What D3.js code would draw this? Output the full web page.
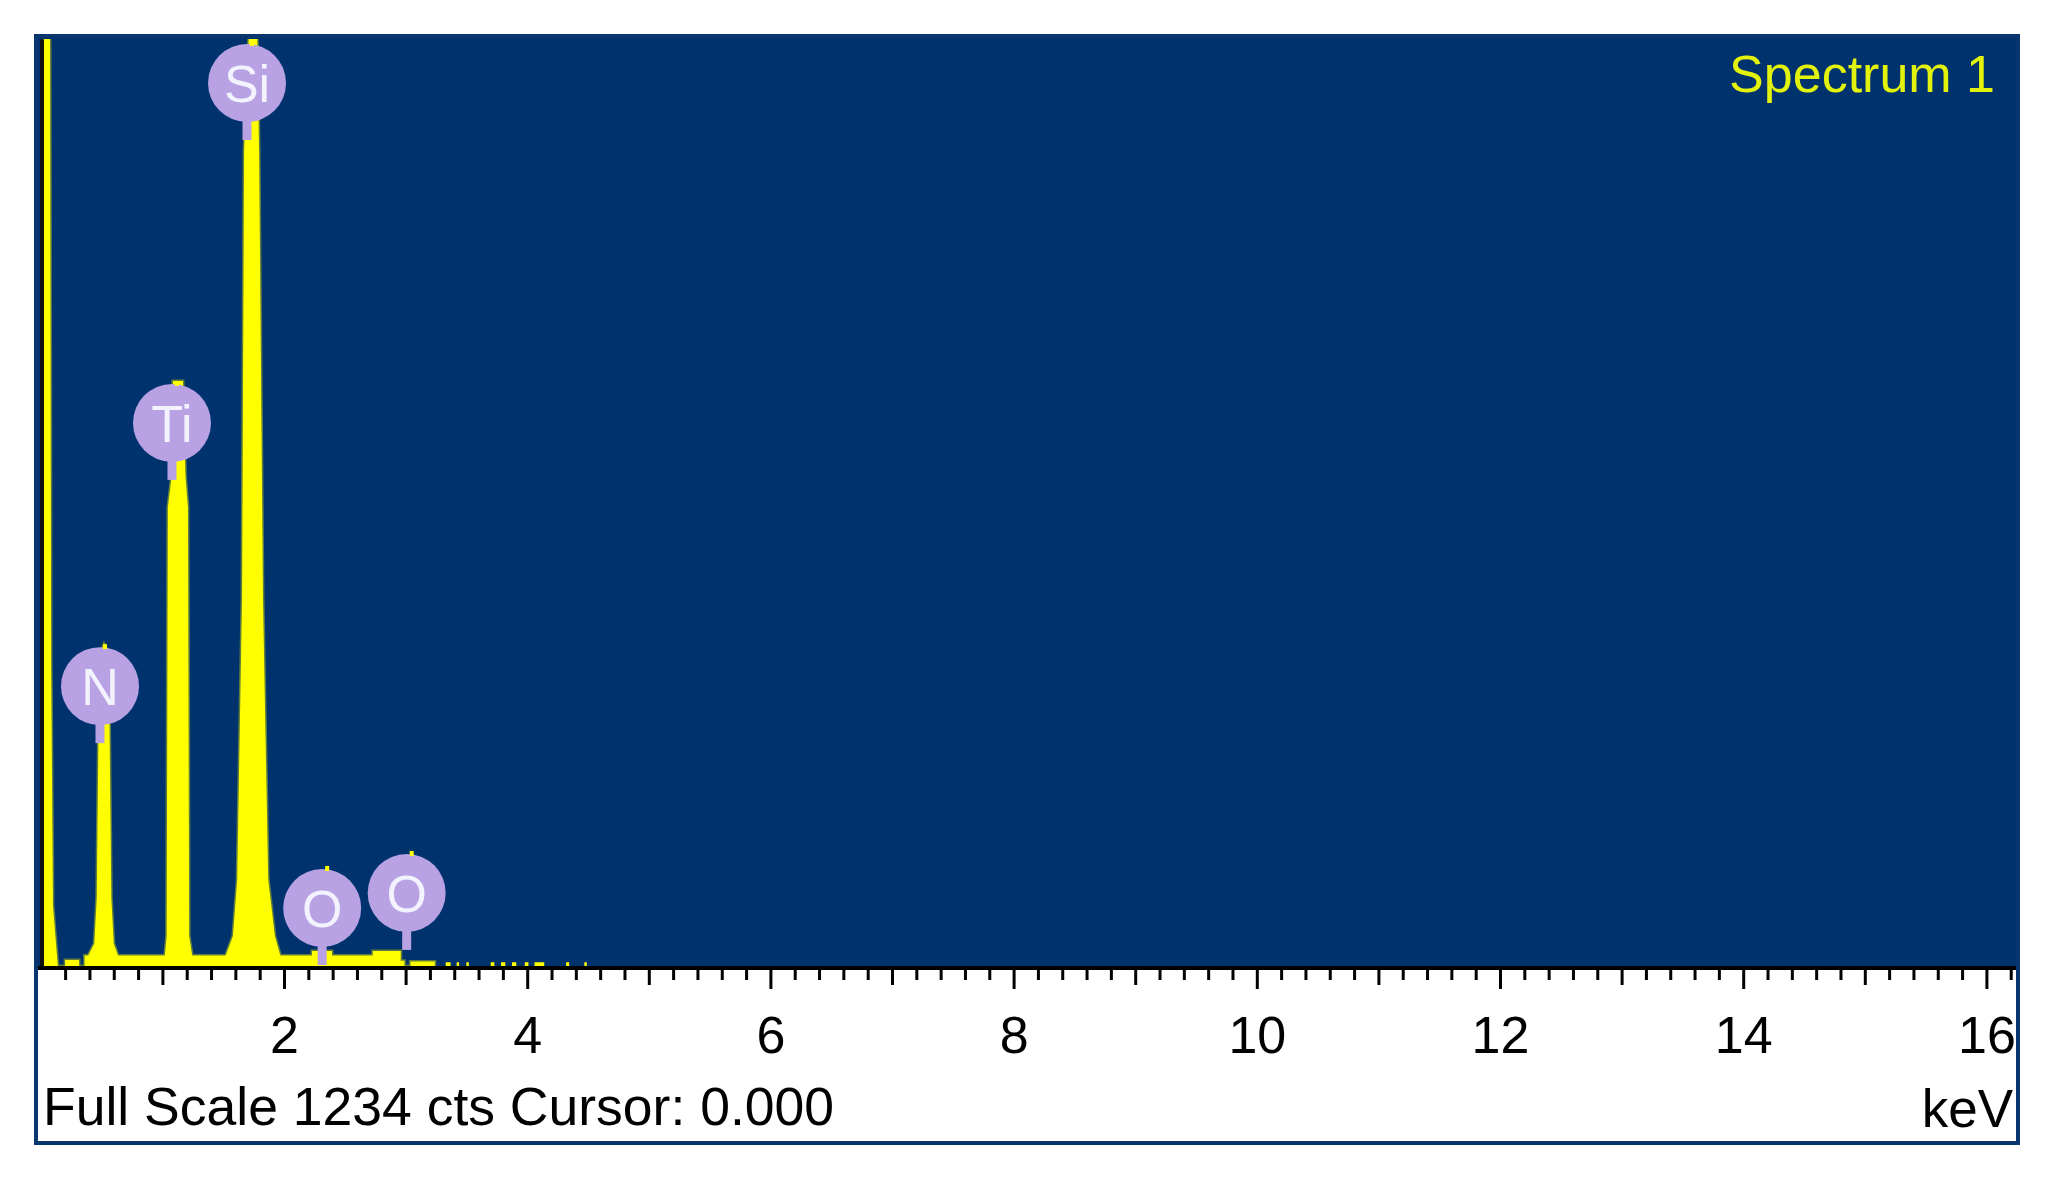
<!DOCTYPE html>
<html>
<head>
<meta charset="utf-8">
<script src="https://cdn.jsdelivr.net/npm/d3@7"></script>
<style>
  body { margin: 0; background: #fff; }
  svg { display: block; }
  text { font-family: "Liberation Sans", Arial, sans-serif; }
</style>
</head>
<body>
<svg id="chart"></svg>
<script>
// spectrum outline (keV, counts)
const spectrumKeV = [0.026, 0.026, 0.075, 0.085, 0.10, 0.14,
  0.20, 0.20, 0.315, 0.315, 0.36, 0.36,
  0.39, 0.44, 0.46, 0.475, 0.50, 0.52, 0.545, 0.565, 0.58, 0.60, 0.635,
  1.02, 1.035, 1.045, 1.075, 1.087, 1.169, 1.19, 1.21, 1.22, 1.245,
  1.52, 1.58, 1.615, 1.655, 1.672, 1.71, 1.78, 1.795, 1.827, 1.87, 1.925, 1.97,
  2.23, 2.23, 2.395, 2.395, 2.73, 2.73, 2.96, 2.96, 2.99, 2.99,
  3.04, 3.04, 3.24, 3.24];
const spectrumCts = [0, 1300, 1300, 400, 80, 0,
  0, 8, 8, 0, 0, 14,
  14, 30, 90, 320, 420, 428, 420, 320, 90, 30, 14,
  14, 40, 610, 650, 778, 778, 650, 610, 40, 14,
  14, 40, 115, 490, 1085, 1234, 1234, 1085, 490, 115, 40, 14,
  14, 20, 20, 14, 14, 20, 20, 7, 7, 0,
  0, 6, 6, 0];

// isolated noise channels past 3 keV
const noiseFrom = [3.33, 3.42, 3.50, 3.70, 3.785, 3.875, 3.98, 4.06, 4.32, 4.47];
const noiseTo = [3.37, 3.44, 3.52, 3.73, 3.82, 3.91, 4.01, 4.14, 4.345, 4.49];
const noiseCts = [5, 5, 5, 5, 5, 5, 5, 5, 5, 5];

// element markers
const labelNames = ["N", "Ti", "Si", "O", "O"];
const labelKeV = [0.528, 1.12, 1.737, 2.355, 3.05];
const labelCts = [428, 778, 1230, 133, 153];

const tickLabels = [2, 4, 6, 8, 10, 12, 14, 16];
const oddTicks = [1, 3, 5, 7, 9, 11, 13, 15];
const fullScale = 1234;
const title = "Spectrum 1";
const footer = "Full Scale 1234 cts Cursor: 0.000";
const unit = "keV";

const width = 2055, height = 1180;
const svg = d3.select("#chart").attr("width", width).attr("height", height);

const x = d3.scaleLinear().domain([0, 16]).range([40.8, 1986.4]);
const y = d3.scaleLinear().domain([0, fullScale]).range([966, 38]);

// white panel + blue plot area
svg.append("rect").attr("x", 36).attr("y", 36).attr("width", 1982).attr("height", 1107)
    .attr("fill", "#fff");
svg.append("rect").attr("x", 36).attr("y", 35).attr("width", 1982).attr("height", 931)
    .attr("fill", "#00336e");

svg.append("clipPath").attr("id", "plotclip")
  .append("rect").attr("x", 38).attr("y", 39).attr("width", 1978).attr("height", 927);

const plot = svg.append("g").attr("clip-path", "url(#plotclip)");

const pts = spectrumKeV.map((k, i) => [k, spectrumCts[i]]);
const area = d3.area()
    .x(d => x(d[0]))
    .y0(y(0))
    .y1(d => y(d[1]));

// soft olive edge under the yellow fill
plot.append("path").datum(pts).attr("d", area)
    .attr("fill", "none").attr("stroke", "#5f7d3c").attr("stroke-width", 3);
plot.append("path").datum(pts).attr("d", area)
    .attr("fill", "#ffff00");

plot.selectAll("rect.noise")
  .data(noiseFrom)
  .join("rect")
    .attr("class", "noise")
    .attr("x", (d, i) => x(d))
    .attr("width", (d, i) => x(noiseTo[i]) - x(d))
    .attr("y", (d, i) => y(noiseCts[i]))
    .attr("height", (d, i) => y(0) - y(noiseCts[i]))
    .attr("fill", "#ffff00");

// y axis line (black) at 0 keV
svg.append("rect").attr("x", 40).attr("y", 39.5).attr("width", 4).attr("height", 927)
    .attr("fill", "#111");

// element labels
const r = 39;
const labels = svg.append("g").selectAll("g")
  .data(labelNames)
  .join("g");
labels.append("rect")
    .attr("x", (d, i) => x(labelKeV[i]) - 5 - 4.5)
    .attr("y", (d, i) => y(labelCts[i]) + 42 + r - 3)
    .attr("width", 9)
    .attr("height", 21)
    .attr("fill", "#b8a2e4");
labels.append("circle")
    .attr("cx", (d, i) => x(labelKeV[i]) - 5)
    .attr("cy", (d, i) => y(labelCts[i]) + 42)
    .attr("r", r)
    .attr("fill", "#b8a2e4");
labels.append("rect")
    .attr("x", (d, i) => x(labelKeV[i]) - 2)
    .attr("y", (d, i) => y(labelCts[i]))
    .attr("width", 4)
    .attr("height", 5)
    .attr("fill", "#ffff00");
labels.append("text")
    .attr("x", (d, i) => x(labelKeV[i]) - 5)
    .attr("y", (d, i) => y(labelCts[i]) + 42 + 19)
    .attr("text-anchor", "middle")
    .attr("font-size", 52)
    .attr("fill", "#f3f3ff")
    .text(d => d);

// x axis
svg.append("rect").attr("x", 38).attr("y", 966).attr("width", 1978).attr("height", 4)
    .attr("fill", "#000");

const minorTicks = d3.range(1, 82).filter(i => i % 5 !== 0).map(i => i / 5);

function tickAxis(values, size) {
  const g = svg.append("g").attr("transform", "translate(0,968)")
    .call(d3.axisBottom(x).tickValues(values).tickSize(size).tickFormat(""));
  g.select(".domain").remove();
  g.selectAll(".tick line").attr("stroke", "#000").attr("stroke-width", 3);
  return g;
}
tickAxis(minorTicks, 12);
tickAxis(oddTicks, 17);
const major = tickAxis(tickLabels, 21);
major.call(d3.axisBottom(x).tickValues(tickLabels).tickSize(21).tickFormat(d => d));
major.select(".domain").remove();
major.selectAll(".tick line").attr("stroke", "#000").attr("stroke-width", 3);
major.selectAll(".tick text")
    .attr("y", 85).attr("dy", null)
    .attr("font-size", 52)
    .attr("font-family", "Liberation Sans, Arial, sans-serif")
    .attr("fill", "#000");

// texts
svg.append("text")
    .attr("x", 1995).attr("y", 92)
    .attr("text-anchor", "end")
    .attr("font-size", 52)
    .attr("fill", "#e2f20a")
    .text(title);
svg.append("text")
    .attr("x", 43).attr("y", 1125)
    .attr("font-size", 53.5)
    .attr("fill", "#000")
    .text(footer);
svg.append("text")
    .attr("x", 2013).attr("y", 1127)
    .attr("text-anchor", "end")
    .attr("font-size", 53)
    .attr("fill", "#000")
    .text(unit);

// panel border on top
svg.append("rect").attr("x", 36).attr("y", 36).attr("width", 1982).attr("height", 1107)
    .attr("fill", "none").attr("stroke", "#0a3670").attr("stroke-width", 4);
</script>
</body>
</html>
